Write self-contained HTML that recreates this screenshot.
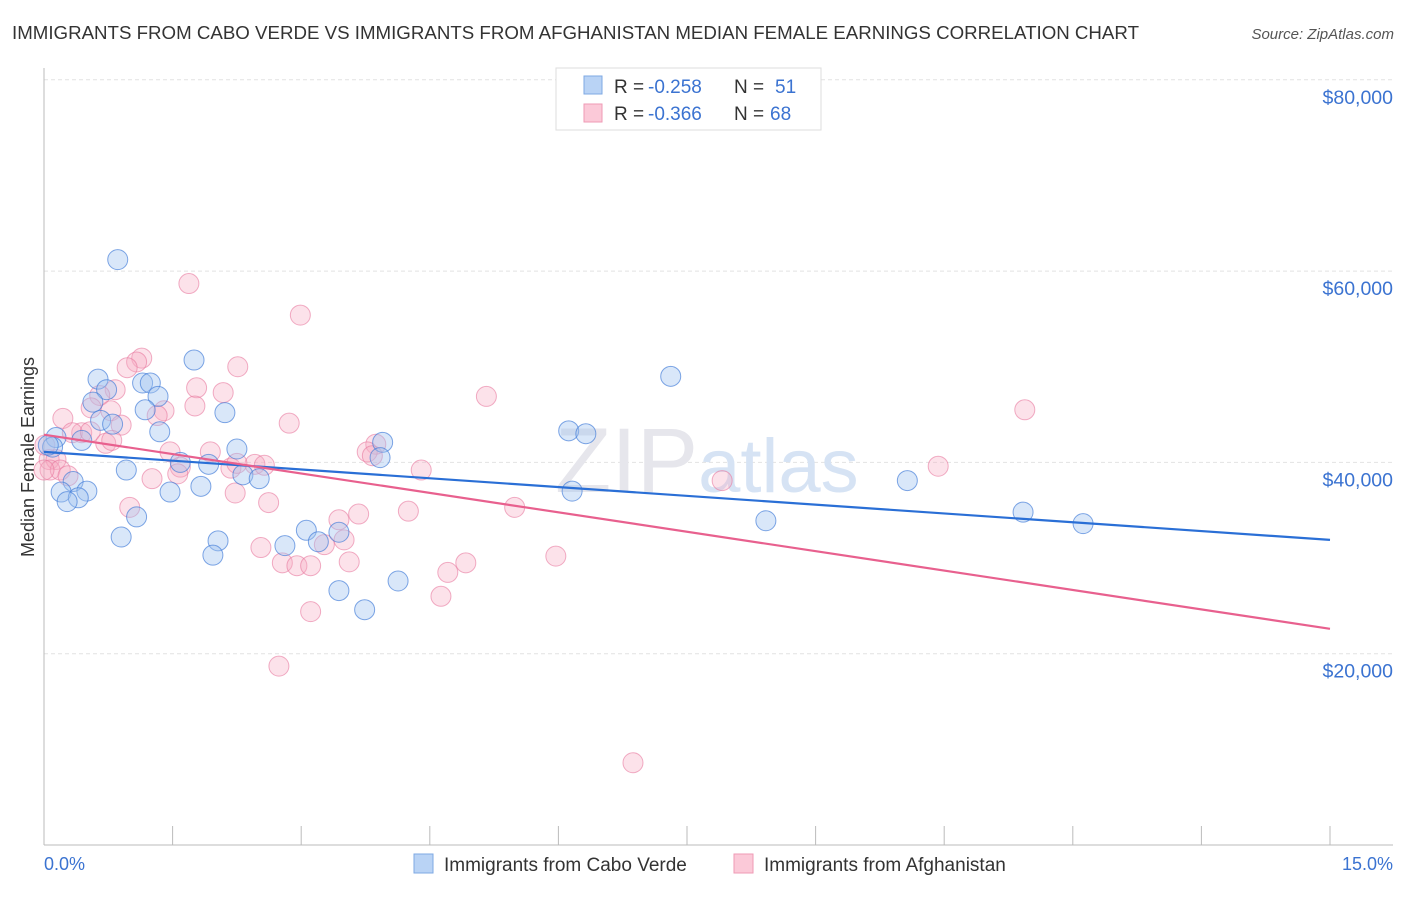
<!DOCTYPE html>
<html><head><meta charset="utf-8"><style>
body{margin:0;background:#fff;font-family:"Liberation Sans",sans-serif;}
svg text{font-family:"Liberation Sans",sans-serif;}
</style></head><body>
<svg id="chart" width="1406" height="892" viewBox="0 0 1406 892" xmlns="http://www.w3.org/2000/svg">
<text x="12" y="39" font-size="18" fill="#333" textLength="1127" lengthAdjust="spacingAndGlyphs">IMMIGRANTS FROM CABO VERDE VS IMMIGRANTS FROM AFGHANISTAN MEDIAN FEMALE EARNINGS CORRELATION CHART</text>
<text x="1394" y="39" font-size="15" fill="#555" text-anchor="end" font-style="italic">Source: ZipAtlas.com</text>
<g id="grid"></g>
<text x="555" y="492" font-size="92" fill="#e6e6ec" font-family="Liberation Serif">ZIP<tspan fill="#d6e3f4" font-family="Liberation Sans" font-size="76">atlas</tspan></text>
<line x1="44" y1="68" x2="44" y2="845" stroke="#bbb"/>
<line x1="44" y1="845" x2="1393" y2="845" stroke="#bbb"/>
<text transform="translate(34,457) rotate(-90)" font-size="18" fill="#333" text-anchor="middle">Median Female Earnings</text>
<text x="44" y="870" font-size="18" fill="#3b73d1">0.0%</text>
<text x="1393" y="870" font-size="18" fill="#3b73d1" text-anchor="end">15.0%</text>
<g id="ticks"></g>
<g id="pts"></g>
<g id="lines"></g>
<g>
<rect x="556" y="68" width="265" height="62" fill="#fff" stroke="#ddd"/>
<rect x="584" y="76" width="18" height="18" fill="#b9d3f5" stroke="#7ea8e3"/>
<rect x="584" y="104" width="18" height="18" fill="#fbc9d8" stroke="#ef9ab5"/>
<text x="614" y="93" font-size="19" fill="#333">R =</text>
<text x="648" y="93" font-size="19" fill="#3b73d1">-0.258</text>
<text x="734" y="93" font-size="19" fill="#333">N =</text>
<text x="775" y="93" font-size="19" fill="#3b73d1">51</text>
<text x="614" y="120" font-size="19" fill="#333">R =</text>
<text x="648" y="120" font-size="19" fill="#3b73d1">-0.366</text>
<text x="734" y="120" font-size="19" fill="#333">N =</text>
<text x="770" y="120" font-size="19" fill="#3b73d1">68</text>
</g>
<g>
<rect x="414" y="854" width="19" height="19" fill="#b9d3f5" stroke="#7ea8e3"/>
<text x="444" y="871" font-size="19" fill="#333">Immigrants from Cabo Verde</text>
<rect x="734" y="854" width="19" height="19" fill="#fbc9d8" stroke="#ef9ab5"/>
<text x="764" y="871" font-size="19" fill="#333">Immigrants from Afghanistan</text>
</g>
</svg>
<script>
const yTicks=[20000,40000,60000,80000];
const yTickLabels=["$20,000","$40,000","$60,000","$80,000"];
const xTickVals=[0,1.5,3,4.5,6,7.5,9,10.5,12,13.5,15];
const blueX=[0.86,1.75,7.31,0.63,1.15,1.24,0.73,1.33,0.57,1.18,2.11,0.66,0.80,1.35,6.12,6.32,3.95,0.14,0.44,0.10,2.25,3.92,1.59,1.92,0.96,2.32,2.51,0.34,10.07,1.83,1.47,0.20,0.50,0.40,0.27,6.16,1.08,8.42,11.42,12.12,3.06,3.44,0.90,2.03,2.81,3.20,1.97,4.13,3.44,3.74,0.05];
const blueY=[61.2,50.7,49.0,48.7,48.3,48.3,47.6,46.9,46.3,45.5,45.2,44.4,44.0,43.2,43.3,43.0,42.1,42.6,42.3,41.6,41.4,40.5,40.0,39.8,39.2,38.7,38.3,38.0,38.1,37.5,36.9,36.9,37.0,36.3,35.9,37.0,34.3,33.9,34.8,33.6,32.9,32.7,32.2,31.8,31.3,31.7,30.3,27.6,26.6,24.6,41.8];
const pinkX=[1.69,2.99,1.14,1.08,2.26,0.97,0.83,1.78,2.09,0.65,5.16,0.55,1.76,0.78,1.40,1.32,0.22,11.44,0.90,2.86,0.44,0.33,0.54,0.72,1.47,1.94,3.87,3.77,3.83,2.46,1.59,0.06,0.14,0.07,0.19,2.18,2.25,2.57,4.40,10.43,1.56,1.26,0.28,7.91,2.23,1.00,2.62,5.49,4.25,3.44,3.67,3.50,3.27,2.53,5.97,4.92,2.78,2.95,3.11,3.56,4.71,4.63,3.11,2.74,6.87,0.01,0.0,0.79];
const pinkY=[58.7,55.4,50.9,50.5,50.0,49.9,47.6,47.8,47.3,47.0,46.9,45.7,45.9,45.4,45.4,44.9,44.6,45.5,43.9,44.1,43.1,43.1,43.2,42.0,41.1,41.1,41.9,41.1,40.7,39.8,39.5,40.3,40.3,39.2,39.2,39.4,39.9,39.7,39.2,39.6,38.8,38.3,38.6,38.1,36.8,35.3,35.8,35.3,34.9,34.0,34.6,31.9,31.4,31.1,30.2,29.5,29.5,29.2,29.2,29.6,28.5,26.0,24.4,18.7,8.6,41.8,39.2,42.3];
const blueTrend=[41.1,31.9];
const pinkTrend=[42.9,22.6];
const NS="http://www.w3.org/2000/svg";
const X=v=>44+v/15*1286;
const Y=v=>845-v*1000*191.3/20000;
const grid=document.getElementById('grid');
yTicks.forEach((t,i)=>{
 const l=document.createElementNS(NS,'line');
 l.setAttribute('x1',44);l.setAttribute('x2',1393);l.setAttribute('y1',Y(t/1000));l.setAttribute('y2',Y(t/1000));
 l.setAttribute('stroke','#e2e2e2');l.setAttribute('stroke-dasharray','4,3');
 
 
 grid.appendChild(l);
 const tx=document.createElementNS(NS,'text');
 tx.setAttribute('x',1393);tx.setAttribute('y',Y(t/1000)+24);tx.setAttribute('text-anchor','end');
 tx.setAttribute('font-size','19.5');tx.setAttribute('fill','#3b73d1');tx.textContent=yTickLabels[i];
 
 
 grid.appendChild(tx);
});
const tk=document.getElementById('ticks');
xTickVals.forEach(v=>{
 const l=document.createElementNS(NS,'line');
 l.setAttribute('x1',X(v));l.setAttribute('x2',X(v));l.setAttribute('y1',826);l.setAttribute('y2',845);
 l.setAttribute('stroke','#bbb');
 
 
 tk.appendChild(l);
});
const pts=document.getElementById('pts');
function dots(xs,ys,fill,stroke,name){
 xs.forEach((x,i)=>{
  const c=document.createElementNS(NS,'circle');
  c.setAttribute('cx',X(x));c.setAttribute('cy',Y(ys[i]));c.setAttribute('r',10);
  c.setAttribute('fill',fill);c.setAttribute('stroke',stroke);c.setAttribute('stroke-width','1');
  
  
  pts.appendChild(c);
 });
}
dots(pinkX,pinkY,'rgba(246,172,196,0.35)','rgba(232,120,158,0.6)','afghanistan-point');
dots(blueX,blueY,'rgba(160,196,240,0.4)','rgba(60,120,215,0.65)','cabo-verde-point');
const lines=document.getElementById('lines');
function trend(t,col,name){
 const l=document.createElementNS(NS,'line');
 l.setAttribute('x1',X(0));l.setAttribute('x2',X(15));l.setAttribute('y1',Y(t[0]));l.setAttribute('y2',Y(t[1]));
 l.setAttribute('stroke',col);l.setAttribute('stroke-width','2.2');
 
 
 lines.appendChild(l);
}
trend(blueTrend,'#2a6fd6','cabo-verde-trend-line');
trend(pinkTrend,'#e8608e','afghanistan-trend-line');
</script>
</body></html>
